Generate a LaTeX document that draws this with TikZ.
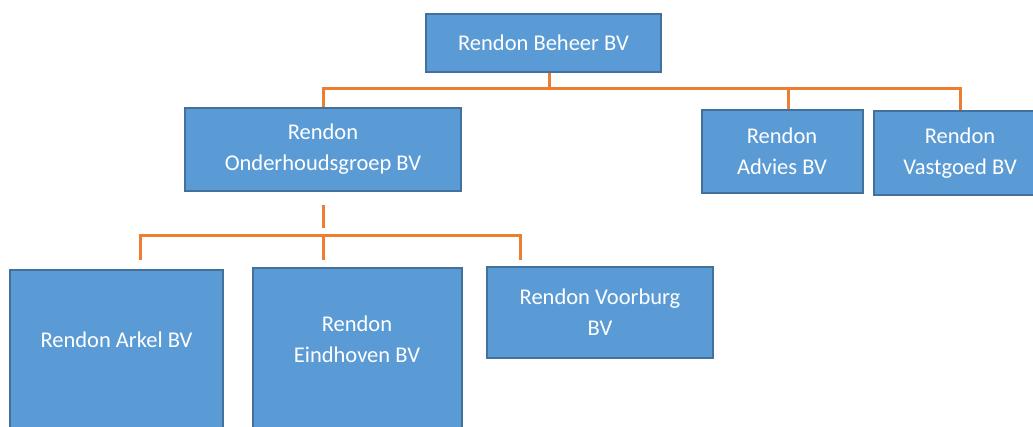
\documentclass[tikz,border=0pt]{standalone}
\usepackage{fontspec}
\setmainfont{Carlito}
\usepackage{xcolor}
\usetikzlibrary{positioning}

\definecolor{boxblue}{HTML}{5B9BD5}
\definecolor{boxedge}{HTML}{41719C}
\definecolor{lineorange}{HTML}{ED7D31}

\begin{document}
\begin{tikzpicture}[x=1pt, y=-1pt,
    unit/.style={draw=boxedge, line width=2pt, fill=boxblue, text=white, align=center, inner sep=0pt, font=\fontsize{22.5}{31}\selectfont},
    tallunit/.style={unit, anchor=north, text depth=70pt},
    link/.style={draw=lineorange, line width=3pt}]
    \useasboundingbox (0,0) rectangle (1033,426);

    \node[unit, minimum width=235, minimum height=58] (beheer) at (543.5,43) {Rendon Beheer BV};
    \node[unit, minimum width=276, minimum height=83] (onder) at (323,149.5) {Rendon\\Onderhoudsgroep BV};
    \node[unit, minimum width=161, minimum height=83] (advies) at (782,151.5) {Rendon\\Advies BV};
    \node[unit, minimum width=172, minimum height=84] (vastgoed) at (960,153) {Rendon\\Vastgoed BV};
    \node[tallunit, minimum width=213, inner ysep=62pt] (arkel) at (116.5,269) {Rendon Arkel BV};
    \node[tallunit, minimum width=209, inner ysep=48pt] (eindhoven) at (357,267) {Rendon\\Eindhoven BV};
    \node[unit, minimum width=226, minimum height=91] (voorburg) at (600,312.5) {Rendon Voorburg\\BV};

    % bus lines
    \coordinate (bus1) at (549,88);
    \coordinate (stub top) at (323,205);
    \coordinate (stub end) at (323,228);
    \coordinate (bus2) at (323,235);
    \coordinate (arkel drop) at (140,260);
    \coordinate (eind drop) at (323,260);
    \coordinate (voor drop) at (520,260);

    \draw[link] ([xshift=5.5pt]beheer.south) -- (bus1);
    \draw[link] (onder.north) |- (bus1) -| ([xshift=6pt]advies.north);
    \draw[link] (bus1) -| (vastgoed.north);
    \draw[link] (stub top) -- (stub end); % loose stub under Onderhoudsgroep
    \draw[link] (arkel drop) |- (bus2) -| (voor drop);
    \draw[link] (bus2) -- (eind drop);
\end{tikzpicture}
\end{document}
